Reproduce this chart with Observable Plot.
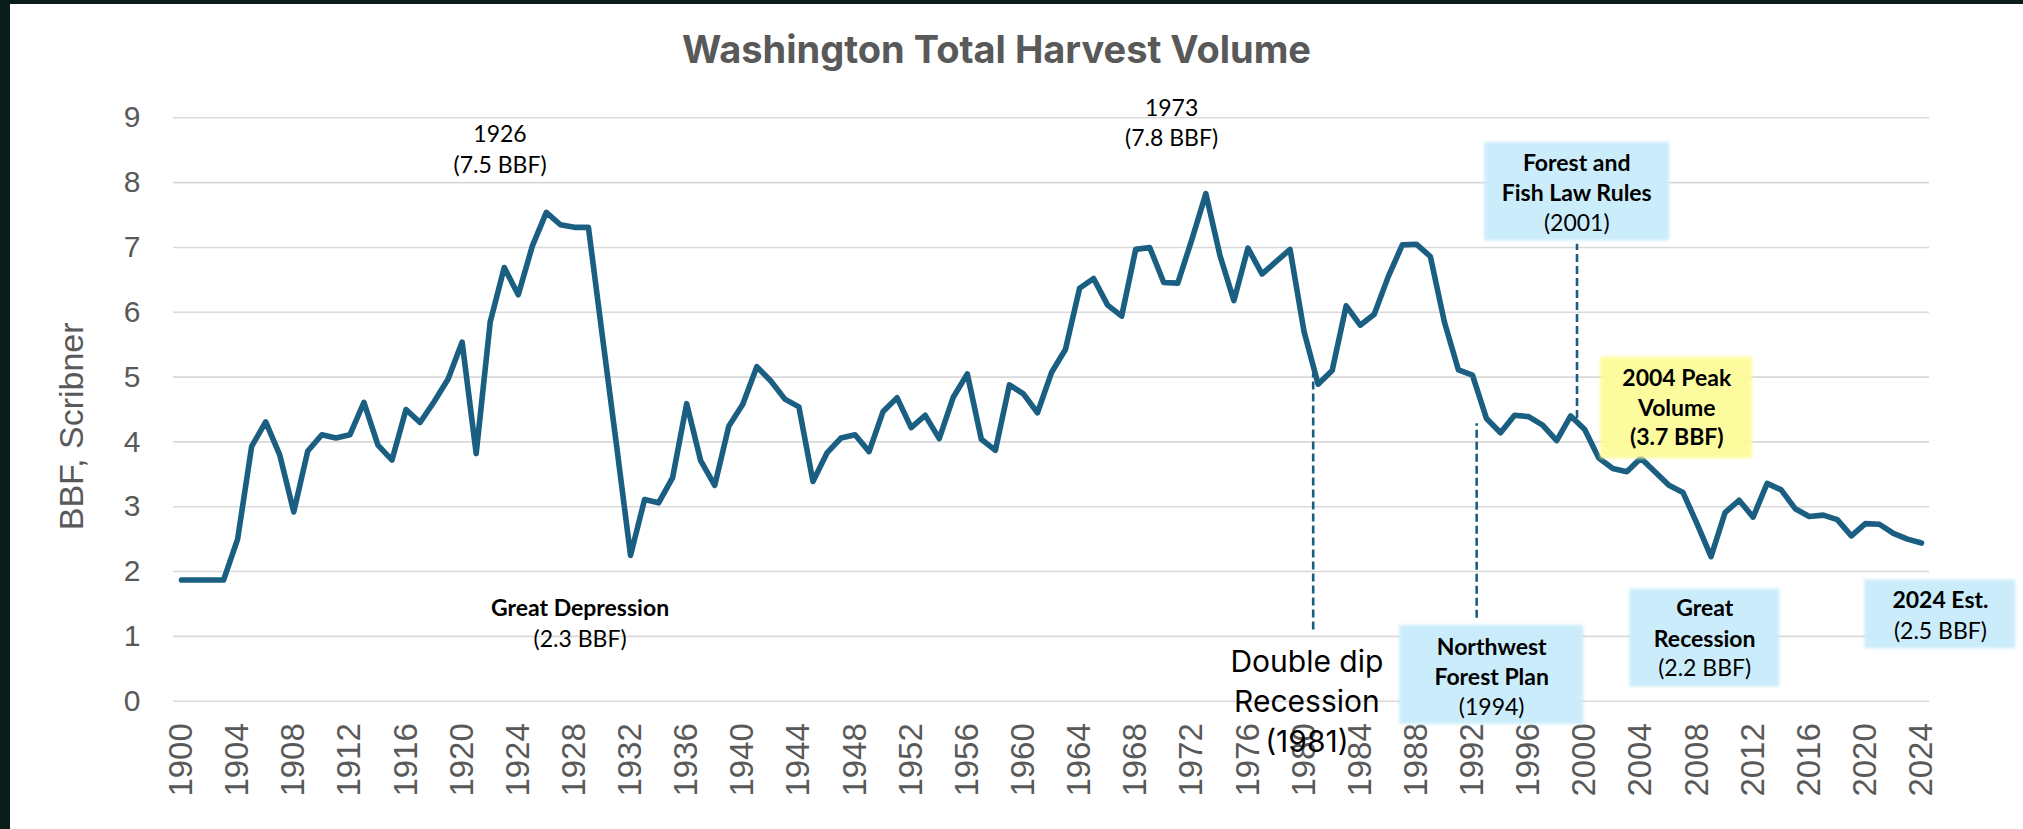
<!DOCTYPE html>
<html>
<head>
<meta charset="utf-8">
<script src="https://cdn.jsdelivr.net/npm/d3@7"></script>
<script src="https://cdn.jsdelivr.net/npm/@observablehq/plot@0.6"></script>
<style>
  html, body { margin: 0; padding: 0; background: #ffffff; overflow: hidden; }
  #wrap { position: relative; width: 2023px; height: 829px; background: #ffffff; }
  #wrap svg { position: absolute; left: 0; top: 0; }
  .edge { position: absolute; background: #0b1d1b; z-index: 5; }
</style>
</head>
<body>
<div id="wrap">
  <div class="edge" style="left:0;top:0;width:10px;height:829px;"></div>
  <div class="edge" style="left:0;top:0;width:2023px;height:4px;"></div>
</div>
<script>
// ---- data ----
const firstYear = 1900;
const volumes = [
  1.87, 1.87, 1.87, 1.87, 2.50, 3.93, 4.31, 3.80, 2.92, 3.86, // 1900-1909
  4.11, 4.06, 4.11, 4.61, 3.95, 3.72, 4.50, 4.30, 4.62, 4.97, // 1910-1919
  5.54, 3.82, 5.85, 6.69, 6.27, 7.02, 7.54, 7.35, 7.31, 7.31, // 1920-1929
  5.62, 3.95, 2.25, 3.11, 3.06, 3.45, 4.59, 3.71, 3.33, 4.24, // 1930-1939
  4.58, 5.16, 4.94, 4.66, 4.54, 3.39, 3.83, 4.06, 4.11, 3.85, // 1940-1949
  4.47, 4.68, 4.22, 4.41, 4.05, 4.69, 5.05, 4.04, 3.87, 4.88, // 1950-1959
  4.74, 4.45, 5.07, 5.43, 6.37, 6.52, 6.11, 5.94, 6.97, 7.00, // 1960-1969
  6.46, 6.45, 7.12, 7.83, 6.88, 6.18, 6.99, 6.59, 6.78, 6.97, // 1970-1979
  5.70, 4.89, 5.10, 6.10, 5.80, 5.97, 6.55, 7.04, 7.05, 6.86, // 1980-1989
  5.85, 5.11, 5.03, 4.36, 4.14, 4.41, 4.39, 4.26, 4.02, 4.40, // 1990-1999
  4.19, 3.75, 3.59, 3.54, 3.75, 3.54, 3.33, 3.22, 2.74, 2.23, // 2000-2009
  2.91, 3.10, 2.84, 3.36, 3.26, 2.97, 2.85, 2.87, 2.80, 2.55, // 2010-2019
  2.74, 2.73, 2.59, 2.50, 2.44                                // 2020-2024
];
const years = volumes.map((_, i) => firstYear + i);

const xTicks = [1900, 1904, 1908, 1912, 1916, 1920, 1924, 1928, 1932, 1936, 1940,
  1944, 1948, 1952, 1956, 1960, 1964, 1968, 1972, 1976, 1980, 1984, 1988, 1992,
  1996, 2000, 2004, 2008, 2012, 2016, 2020, 2024];
const yTicks = [0, 1, 2, 3, 4, 5, 6, 7, 8, 9];

const titleText = "Washington Total Harvest Volume";
const yLabelText = "BBF, Scribner";

// dashed event markers (year, from, to)
const markerX = [1980.65, 1992.3, 1999.45];
const markerFrom = [1.1, 1.28, 4.36];
const markerTo = [5.05, 4.28, 7.05];

// annotation boxes
const boxX1 = [1992.87, 2001.14, 1986.8, 2003.21, 2019.96];
const boxX2 = [2006.06, 2011.97, 1999.93, 2013.9, 2030.72];
const boxY1 = [7.10, 3.74, -0.36, 0.22, 0.81];
const boxY2 = [8.62, 5.31, 1.17, 1.73, 1.87];
const boxFill = ["#c8ecfb", "#fcfc9a", "#c8ecfb", "#c8ecfb", "#c8ecfb"];

// annotation text lines
const noteText = ["1926", "(7.5 BBF)", "1973", "(7.8 BBF)", "Great Depression", "(2.3 BBF)",
  "Forest and", "Fish Law Rules", "(2001)", "2004 Peak", "Volume", "(3.7 BBF)",
  "Northwest", "Forest Plan", "(1994)", "Great", "Recession", "(2.2 BBF)",
  "2024 Est.", "(2.5 BBF)", "Double dip", "Recession", "(1981)"];
const noteX = [1922.7, 1922.7, 1970.56, 1970.56, 1928.4, 1928.4,
  1999.43, 1999.43, 1999.43, 2006.56, 2006.56, 2006.56,
  1993.37, 1993.37, 1993.37, 2008.55, 2008.55, 2008.55,
  2025.35, 2025.35, 1980.2, 1980.2, 1980.2];
const noteY = [8.74, 8.26, 9.14, 8.68, 1.43, 0.95,
  8.30, 7.83, 7.37, 4.98, 4.52, 4.06,
  0.83, 0.37, -0.10, 1.43, 0.95, 0.50,
  1.55, 1.08, 0.60, -0.015, -0.63];
const noteKind = ["reg", "reg", "reg", "reg", "bold", "reg",
  "bold", "bold", "reg", "bold", "bold", "bold",
  "bold", "bold", "reg", "bold", "bold", "reg",
  "bold", "reg", "big", "big", "big"];

// ---- build tables ----
const series = volumes.map((v, i) => ({year: years[i], value: v}));
const markers = markerX.map((x, i) => ({x, y1: markerFrom[i], y2: markerTo[i]}));
const boxes = boxX1.map((x1, i) => ({x1, x2: boxX2[i], y1: boxY1[i], y2: boxY2[i], fill: boxFill[i]}));
const notes = noteText.map((t, i) => ({text: t, x: noteX[i], y: noteY[i], kind: noteKind[i]}));

const lineColor = "#1a5f82";
const axisGray = "#595959";
const arial = "Liberation Sans, Arial, sans-serif";

const chart = Plot.plot({
  width: 2023,
  height: 829,
  marginLeft: 173,
  marginRight: 94,
  marginTop: 117.3,
  marginBottom: 128.3,
  style: {background: "transparent", overflow: "visible"},
  x: {domain: [1900, 2024], insetLeft: 8, insetRight: 8},
  y: {domain: [0, 9], axis: null},
  marks: [
    Plot.gridY(yTicks, {stroke: "#d9d9d9", strokeOpacity: 1, strokeWidth: 1.6}),
    // y tick labels
    Plot.text(yTicks, {y: d => d, text: d => String(d), frameAnchor: "left", dx: -33,
      textAnchor: "end", lineAnchor: "middle", fontSize: 30, fill: axisGray,
      fontFamily: arial, ariaLabel: "ytick"}),
    Plot.axisX(xTicks, {tickSize: 0, tickPadding: 22, tickRotate: -90, textAnchor: "end",
      lineAnchor: "middle", fontSize: 33, fill: axisGray,
      fontFamily: arial, label: null, tickFormat: d => String(d)}),
    Plot.text([yLabelText], {frameAnchor: "left", y: () => 4.24, text: d => d, rotate: -90,
      dx: -101, fontSize: 34, fill: axisGray, fontFamily: arial,
      lineAnchor: "middle", textAnchor: "middle"}),
    Plot.text([titleText], {frameAnchor: "top", text: d => d, dx: -55, dy: -67.3,
      lineAnchor: "middle", fontSize: 38, fontWeight: 700, fill: axisGray,
      fontFamily: "Inter, Open Sans, sans-serif", ariaLabel: "chart-title"}),
    Plot.ruleX(markers, {x: "x", y1: "y1", y2: "y2", stroke: lineColor, strokeWidth: 2.6,
      strokeDasharray: "8,4"}),
    Plot.line(series, {x: "year", y: "value", stroke: lineColor, strokeWidth: 5.6,
      strokeLinejoin: "round", strokeLinecap: "round"}),
    Plot.rect(boxes, {x1: "x1", x2: "x2", y1: "y1", y2: "y2", fill: "fill", fillOpacity: 0.95,
      imageFilter: "blur(1.5px)"}),
    Plot.text(notes.filter(d => d.kind === "reg"), {x: "x", y: "y", text: "text",
      fontSize: 23, fontWeight: 400, fill: "#000", fontFamily: "Lato, sans-serif", lineAnchor: "middle"}),
    Plot.text(notes.filter(d => d.kind === "bold"), {x: "x", y: "y", text: "text",
      fontSize: 23, fontWeight: 700, fill: "#000", fontFamily: "Lato, sans-serif", lineAnchor: "middle"}),
    Plot.text(notes.filter(d => d.kind === "big"), {x: "x", y: "y", text: "text",
      fontSize: 30, fontWeight: 400, fill: "#000", fontFamily: "Inter, Open Sans, sans-serif", lineAnchor: "middle"})
  ]
});

// widen glyphs horizontally about their anchor point (reference uses wide glyphs)
function stretch(selector, sx) {
  d3.select(chart).selectAll(selector).each(function() {
    const el = d3.select(this);
    const t = el.attr("transform");
    if (t) el.attr("transform", `${t} scale(${sx},1)`);
  });
}
stretch("g[aria-label='ytick'] text", 1.2);
stretch("g[aria-label='chart-title'] text", 1.12);

document.getElementById("wrap").appendChild(chart);
</script>
</body>
</html>
